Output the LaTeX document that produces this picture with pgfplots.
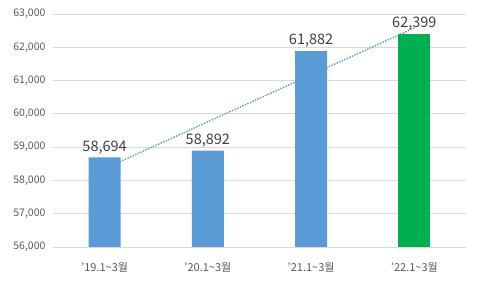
\documentclass[border=0pt]{standalone}
\usepackage{pgfplots}
\pgfplotsset{compat=1.18}
\usepackage{fontspec}
\setmainfont{Noto Sans CJK KR}
\definecolor{barblue}{HTML}{5B9BD5}
\definecolor{bargreen}{HTML}{00B050}
\definecolor{gridc}{HTML}{D9D9D9}
\definecolor{tickc}{HTML}{595959}
\definecolor{labc}{HTML}{404040}
\begin{document}
\begin{tikzpicture}[x=1pt,y=1pt]
\path[use as bounding box] (-53,-41) rectangle (427,247);
\begin{axis}[
  at={(0,0)}, anchor=origin,
  scale only axis, width=413pt, height=233pt,
  xmin=0.5, xmax=4.5, ymin=56000, ymax=63000,
  ytick={56000,57000,...,63000},
  xtick={1,2,3,4},
  xticklabels={’19.1\textasciitilde3월,’20.1\textasciitilde3월,’21.1\textasciitilde3월,’22.1\textasciitilde3월},
  axis line style={draw=none},
  ymajorgrids, grid style={gridc, line width=0.8pt},
  major tick length=0pt,
  tick label style={font=\fontsize{10.5}{12}\selectfont, text=tickc},
  yticklabel style={xshift=-4pt},
  xticklabel style={yshift=-12pt, font=\fontsize{11}{12}\selectfont},
  /pgf/number format/assume math mode=true,
  scaled y ticks=false,
  y tick label style={/pgf/number format/.cd, fixed, 1000 sep={,}},
  ybar, bar width=32pt, bar shift=0pt,
  nodes near coords,
  nodes near coords style={font=\fontsize{14.5}{16}\selectfont, text=labc, /pgf/number format/.cd, fixed, 1000 sep={,}, assume math mode=true},
  clip=false,
]
\addplot[sharp plot, no marks, draw=barblue, dash pattern=on 1.4pt off 1.4pt, line width=1.5pt, nodes near coords={}] coordinates {(1,58351.25) (4,62582.75)};
\addplot[fill=barblue, draw=none] coordinates {(1,58694) (2,58892) (3,61882)};
\addplot[fill=bargreen, draw=none] coordinates {(4,62399)};
\end{axis}
\end{tikzpicture}
\end{document}
